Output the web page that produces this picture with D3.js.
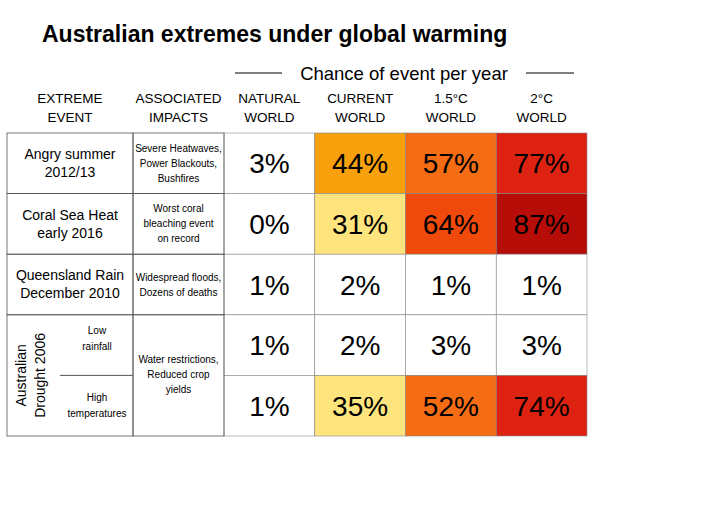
<!DOCTYPE html>
<html><head><meta charset="utf-8">
<script src="https://cdn.jsdelivr.net/npm/d3@7"></script>
<style>body{margin:0;background:#fff}text{font-family:"Liberation Sans",Arial,sans-serif}</style>
</head><body><svg id="c" width="720" height="509"></svg>
<script>
var worlds = ["NATURAL|WORLD", "CURRENT|WORLD", "1.5°C|WORLD", "2°C|WORLD"];
var events = ["Angry summer|2012/13", "Coral Sea Heat|early 2016", "Queensland Rain|December 2010", "Low|rainfall", "High|temperatures"];
var impacts = ["Severe Heatwaves,|Power Blackouts,|Bushfires", "Worst coral|bleaching event|on record", "Widespread floods,|Dozens of deaths", "Water restrictions,|Reduced crop|yields"];
var natural = [3, 0, 1, 1, 1];
var current = [44, 31, 2, 2, 35];
var warm15 = [57, 64, 1, 3, 52];
var warm2 = [77, 87, 1, 3, 74];

var svg = d3.select("#c");
var x = d3.scaleBand().domain(d3.range(4)).range([224, 587]);
var ev = {x: 7, w: 126}, im = {x: 133, w: 91};
var y = d3.scaleBand().domain(d3.range(5)).range([133, 436]);
var color = d3.scaleThreshold().domain([10, 40, 50, 60, 70, 80])
  .range(["#ffffff", "#fde47c", "#f8a10c", "#f46c14", "#ef4a0c", "#dd2211", "#b70d08"]);

svg.append("text").attr("x", 42).attr("y", 42).attr("font-size", 23).attr("font-weight", "bold")
  .text("Australian extremes under global warming");
svg.append("text").attr("x", 404).attr("y", 80).attr("text-anchor", "middle").attr("font-size", 18.5)
  .text("Chance of event per year");
svg.append("line").attr("x1", 235).attr("x2", 282).attr("y1", 73).attr("y2", 73).attr("stroke", "#000");
svg.append("line").attr("x1", 526).attr("x2", 574).attr("y1", 73).attr("y2", 73).attr("stroke", "#000");

var headX = [ev.x + ev.w / 2, im.x + im.w / 2].concat(d3.range(4).map(function(i) { return x(i) + x.bandwidth() / 2; }));
["EXTREME|EVENT", "ASSOCIATED|IMPACTS"].concat(worlds).forEach(function(h, i) {
  h.split("|").forEach(function(s, j) {
    svg.append("text").attr("x", headX[i]).attr("y", 103 + j * 19)
      .attr("text-anchor", "middle").attr("font-size", 13.5).text(s);
  });
});

[natural, current, warm15, warm2].forEach(function(vals, c) {
  vals.forEach(function(v, r) {
    svg.append("rect").attr("x", x(c)).attr("y", y(r)).attr("width", x.bandwidth()).attr("height", y.bandwidth())
      .attr("fill", color(v)).attr("stroke", "#888").attr("stroke-width", 0.6);
    svg.append("text").attr("x", x(c) + x.bandwidth() / 2).attr("y", y(r) + y.bandwidth() / 2 + 10)
      .attr("text-anchor", "middle").attr("font-size", 28).text(v + "%");
  });
});

function lines(str, cx, cy, fs, lh) {
  var parts = str.split("|");
  parts.forEach(function(s, j) {
    svg.append("text").attr("x", cx).attr("y", cy + (j - (parts.length - 1) / 2) * lh + fs * 0.35)
      .attr("text-anchor", "middle").attr("font-size", fs).text(s);
  });
}
function box(c, y0, h) {
  svg.append("rect").attr("x", c.x).attr("y", y0).attr("width", c.w).attr("height", h)
    .attr("fill", "none").attr("stroke", "#555").attr("stroke-width", 0.8);
}
for (var r = 0; r < 3; r++) {
  box(ev, y(r), y.bandwidth());
  box(im, y(r), y.bandwidth());
  lines(events[r], ev.x + ev.w / 2, y(r) + y.bandwidth() / 2, 14, 18);
  lines(impacts[r], im.x + im.w / 2, y(r) + y.bandwidth() / 2, 10, 15);
}
box(ev, y(3), y.bandwidth() * 2);
box(im, y(3), y.bandwidth() * 2);
svg.append("line").attr("x1", 60).attr("x2", im.x).attr("y1", y(4)).attr("y2", y(4)).attr("stroke", "#555");
lines(events[3], 97, y(3) + 24, 10, 16);
lines(events[4], 97, y(4) + 30, 10, 16);
lines(impacts[3], im.x + im.w / 2, y(4) - 1, 10, 15);
var g = svg.append("g").attr("transform", "translate(26," + y(4) + ") rotate(-90)");
g.append("text").attr("x", 0).attr("y", 0).attr("text-anchor", "middle").attr("font-size", 14).text("Australian");
g.append("text").attr("x", 0).attr("y", 19).attr("text-anchor", "middle").attr("font-size", 14).text("Drought 2006");
</script></body></html>
